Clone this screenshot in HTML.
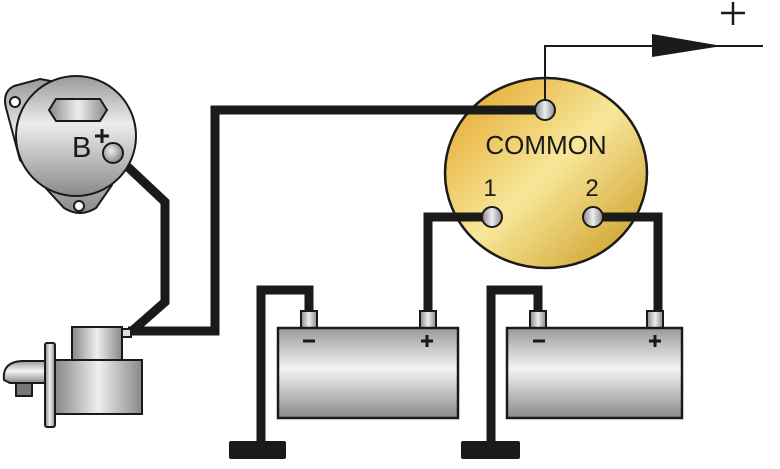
<!DOCTYPE html>
<html><head><style>html,body{margin:0;padding:0;background:#fff}svg{display:block}</style></head>
<body>
<svg width="780" height="469" viewBox="0 0 780 469" xmlns="http://www.w3.org/2000/svg">
<defs>
<linearGradient id="gv" x1="0" y1="0" x2="0" y2="1">
<stop offset="0" stop-color="#9a9a9a"/><stop offset="0.45" stop-color="#f4f4f4"/><stop offset="1" stop-color="#8a8a8a"/></linearGradient>
<linearGradient id="gh" x1="0" y1="0" x2="1" y2="0">
<stop offset="0" stop-color="#888"/><stop offset="0.5" stop-color="#eee"/><stop offset="1" stop-color="#888"/></linearGradient>
<linearGradient id="ga" x1="0" y1="0" x2="0" y2="1">
<stop offset="0" stop-color="#999"/><stop offset="0.4" stop-color="#ececec"/><stop offset="1" stop-color="#8a8a8a"/></linearGradient>
<linearGradient id="gold" x1="0" y1="0" x2="1" y2="1">
<stop offset="0" stop-color="#e0a020"/><stop offset="0.5" stop-color="#f8e79a"/><stop offset="1" stop-color="#c89418"/></linearGradient>
<radialGradient id="gt" cx="0.4" cy="0.4" r="0.6"><stop offset="0" stop-color="#eee"/><stop offset="1" stop-color="#888"/></radialGradient>
</defs>

<g fill="none" stroke="#1a1a1a" stroke-width="9" stroke-linejoin="miter">
<polyline points="545,110 215,110 215,331 128,331"/>
<polyline points="112,152 165,202 165,302 132,331"/>
<polyline points="492,217 428,217 428,314"/>
<polyline points="593,217 658,217 658,314"/>
<polyline points="309,314 309,290 261,290 261,448"/>
<polyline points="538,314 538,290 491,290 491,448"/>
</g>
<rect x="229" y="441" width="57" height="18" rx="2" fill="#1a1a1a"/>
<rect x="461" y="441" width="59" height="18" rx="2" fill="#1a1a1a"/>

<polyline points="545,110 545,46 655,46" fill="none" stroke="#1a1a1a" stroke-width="2"/>
<line x1="650" y1="46" x2="763" y2="46" stroke="#1a1a1a" stroke-width="2"/>
<polygon points="652,34 722,46 652,57" fill="#1a1a1a"/>
<g stroke="#1a1a1a" stroke-width="2.5"><line x1="721" y1="13" x2="745" y2="13"/><line x1="733" y1="2" x2="733" y2="25"/></g>

<ellipse cx="546" cy="173" rx="101" ry="95" fill="url(#gold)" stroke="#1a1a1a" stroke-width="2.5"/>
<line x1="446" y1="110" x2="545" y2="110" stroke="#1a1a1a" stroke-width="9"/>
<line x1="446" y1="217" x2="492" y2="217" stroke="#1a1a1a" stroke-width="9"/>
<line x1="593" y1="217" x2="650" y2="217" stroke="#1a1a1a" stroke-width="9"/>
<line x1="545" y1="46" x2="545" y2="110" stroke="#1a1a1a" stroke-width="2"/>
<circle cx="545" cy="110" r="10" fill="url(#gh)" stroke="#1a1a1a" stroke-width="2"/>
<circle cx="492" cy="217" r="10" fill="url(#gh)" stroke="#1a1a1a" stroke-width="2"/>
<circle cx="593" cy="217" r="10" fill="url(#gh)" stroke="#1a1a1a" stroke-width="2"/>
<text x="546" y="154" font-family="Liberation Sans, sans-serif" font-size="26" text-anchor="middle" fill="#1a1a1a">COMMON</text>
<text x="490" y="196" font-family="Liberation Sans, sans-serif" font-size="24" text-anchor="middle" fill="#1a1a1a">1</text>
<text x="592" y="196" font-family="Liberation Sans, sans-serif" font-size="24" text-anchor="middle" fill="#1a1a1a">2</text>

<g stroke="#1a1a1a" stroke-width="2">
<rect x="301" y="311" width="16" height="18" fill="url(#gh)"/>
<rect x="420" y="311" width="16" height="18" fill="url(#gh)"/>
<rect x="278" y="328" width="180" height="90" fill="url(#gv)" stroke-width="2.5"/>
<rect x="530" y="311" width="16" height="18" fill="url(#gh)"/>
<rect x="647" y="311" width="16" height="18" fill="url(#gh)"/>
<rect x="507" y="328" width="175" height="90" fill="url(#gv)" stroke-width="2.5"/>
</g>
<g stroke="#1a1a1a" stroke-width="3">
<line x1="303" y1="341" x2="315" y2="341"/>
<line x1="421" y1="341" x2="433" y2="341"/><line x1="427" y1="335" x2="427" y2="347"/>
<line x1="533" y1="341" x2="545" y2="341"/>
<line x1="649" y1="341" x2="661" y2="341"/><line x1="655" y1="335" x2="655" y2="347"/>
</g>

<g stroke="#1a1a1a" stroke-width="2">
<path d="M6,108 Q2,92 14,86 L40,79 L100,90 L112,185 L96,208 Q80,218 64,208 L20,160 Z" fill="url(#ga)"/>
<circle cx="76" cy="136" r="60" fill="url(#ga)"/>
<circle cx="15" cy="102" r="5" fill="#fff"/>
<circle cx="79" cy="206" r="5" fill="#fff"/>
<polygon points="49,110 56,99 100,99 107,110 100,121 56,121" fill="url(#gh)"/>
<circle cx="113" cy="153" r="10" fill="url(#gt)"/>
</g>
<text x="72" y="157" font-family="Liberation Sans, sans-serif" font-size="29" fill="#1a1a1a">B</text>
<g stroke="#1a1a1a" stroke-width="3"><line x1="95" y1="136" x2="109" y2="136"/><line x1="102" y1="129" x2="102" y2="143"/></g>

<g stroke="#1a1a1a" stroke-width="2">
<path d="M4,380 Q2,362 22,361 L48,361 L48,383 L10,383 Z" fill="url(#gv)"/>
<rect x="16" y="383" width="16" height="13" fill="#777"/>
<rect x="55" y="360" width="87" height="54" fill="url(#gh)"/>
<rect x="72" y="327" width="50" height="33" fill="url(#gh)"/>
<rect x="122" y="329" width="9" height="8" fill="#ddd"/>
<rect x="45" y="343" width="10" height="84" rx="2" fill="url(#gh)"/>
</g>
</svg>
</body></html>
